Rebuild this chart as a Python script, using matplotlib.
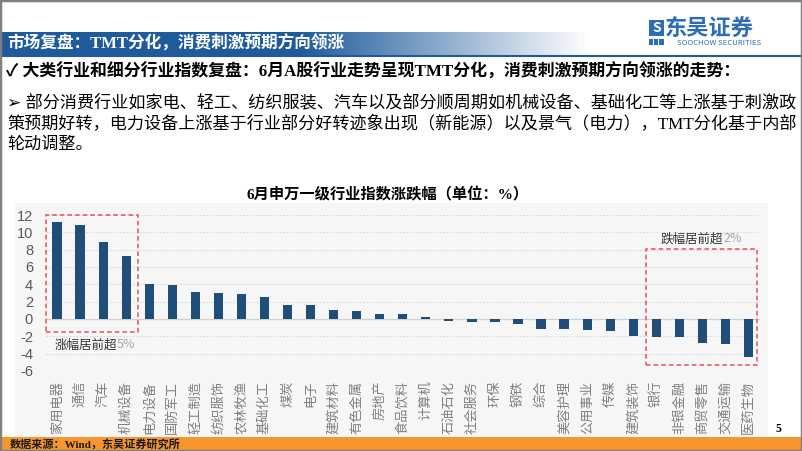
import matplotlib
matplotlib.use("Agg")
import matplotlib.pyplot as plt
import numpy as np
from matplotlib.patches import Rectangle

plt.rcParams['font.family'] = ['Noto Sans CJK SC', 'DejaVu Sans']

categories = ['家用电器', '通信', '汽车', '机械设备', '电力设备', '国防军工', '轻工制造',
              '纺织服饰', '农林牧渔', '基础化工', '煤炭', '电子', '建筑材料', '有色金属',
              '房地产', '食品饮料', '计算机', '石油石化', '社会服务', '环保', '钢铁', '综合',
              '美容护理', '公用事业', '传媒', '建筑装饰', '银行', '非银金融', '商贸零售',
              '交通运输', '医药生物']
values = [11.15, 10.85, 8.85, 7.3, 4.05, 3.95, 3.15, 2.95, 2.92, 2.55, 1.65, 1.58,
          1.0, 0.88, 0.57, 0.52, 0.27, -0.22, -0.37, -0.37, -0.52, -1.13, -1.2, -1.3,
          -1.4, -1.93, -2.02, -2.07, -2.72, -2.88, -4.43]
yticks = [-6, -4, -2, 0, 2, 4, 6, 8, 10, 12]

title = '6月申万一级行业指数涨跌幅（单位：%）'
header = '市场复盘：TMT分化，消费刺激预期方向领涨'
check_line = '✓ 大类行业和细分行业指数复盘：6月A股行业走势呈现TMT分化，消费刺激预期方向领涨的走势：'
bullet_lines = ['➢ 部分消费行业如家电、轻工、纺织服装、汽车以及部分顺周期如机械设备、基础化工等上涨基于刺激政',
                '策预期好转，电力设备上涨基于行业部分好转迹象出现（新能源）以及景气（电力），TMT分化基于内部',
                '轮动调整。']
source = '数据来源：Wind，东吴证券研究所'

W, H = 802, 451
fig = plt.figure(figsize=(W / 100, H / 100), dpi=100)


def fx(x):
    return x / W


def fy(y):
    return 1 - y / H


SERIF = ['Liberation Serif', 'Noto Sans CJK SC', 'DejaVu Sans']
BLUE = '#1F5B9B'
BAR = '#1F4E79'
LOGO = '#2E6DB4'

# Chart background (drawn first, behind everything)
fig.patches.append(Rectangle((fx(15), fy(437)), fx(768 - 15), fy(203) - fy(437),
                             transform=fig.transFigure, facecolor='#F6F6F6',
                             edgecolor='none', zorder=-5))

# Slide frame
fig.patches.append(Rectangle((0, 0), 1, 1, transform=fig.transFigure, fill=False,
                             edgecolor='#808080', linewidth=2.5, zorder=10))

# Header gradient band
hax = fig.add_axes([0, fy(56), 1, fy(32) - fy(56)])
hax.axis('off')
xs = np.linspace(0, W, 802)
alpha = np.clip((590 - xs) / (590 - 300), 0, 1)
c = np.array(matplotlib.colors.to_rgb(BLUE))
grad = (c[None, :] * alpha[:, None] + (1 - alpha[:, None]))
hax.imshow(grad[None, :, :], aspect='auto', extent=[0, W, 0, 1])
hax.set_xlim(0, W)
fig.add_artist(plt.Line2D([0, 1], [fy(56), fy(56)], transform=fig.transFigure,
                          color=BLUE, linewidth=1.5))
fig.text(fx(7), fy(44), header, family=SERIF, fontsize=12, color='white',
         fontweight='bold', va='center', ha='left')

# Logo
fig.patches.append(Rectangle((fx(649), fy(36)), fx(15), fy(20) - fy(36), transform=fig.transFigure,
                             facecolor=LOGO, edgecolor='none'))
fig.text(fx(656.5), fy(28), 'S', color='white', fontsize=10, fontweight='bold',
         ha='center', va='center')
for i in range(3):
    fig.patches.append(Rectangle((fx(649 + i * 5.2), fy(45)), fx(4.2), fy(39) - fy(45),
                                 transform=fig.transFigure, facecolor=LOGO, edgecolor='none'))
fig.text(fx(665), fy(28), '东吴证券', color=LOGO, fontsize=16, fontweight='bold',
         ha='left', va='center')
fig.text(fx(677), fy(43), 'SOOCHOW SECURITIES', color=LOGO, fontsize=5.6,
         ha='left', va='center')

# Check line and bullet
fig.text(fx(6), fy(72), check_line, family=SERIF, fontsize=12.2, fontweight='bold',
         color='black', va='center', ha='left')
for line, y in zip(bullet_lines, [103, 125, 145]):
    fig.text(fx(7), fy(y), line, family=SERIF, fontsize=12.3, color='black',
             va='center', ha='left')

# Chart title
fig.text(fx(388), fy(195), title, family=SERIF, fontsize=11, fontweight='bold',
         color='black', ha='center', va='center')

# Main axes
ax = fig.add_axes([fx(45.5), fy(371), fx(760 - 45.5), fy(215) - fy(371)])
ax.set_facecolor('none')
ax.set_zorder(2)
x = np.arange(len(categories))
ax.bar(x, values, width=0.4, color=BAR, zorder=3)
ax.set_xlim(-0.5, len(categories) - 0.5)
ax.set_ylim(-6, 12)
ax.set_yticks(yticks)
ax.set_yticklabels([str(v) for v in yticks], fontsize=10.5, color='#595959',
                   family=['Liberation Sans', 'DejaVu Sans'])
ax.set_xticks(x)
ax.set_xticklabels(categories, rotation=90, fontsize=9.5, color='#7F7F7F', va='top')
ax.tick_params(axis='both', length=0)
ax.tick_params(axis='y', pad=9)
ax.tick_params(axis='x', pad=7)
for s in ax.spines.values():
    s.set_visible(False)
for v in yticks:
    if v == 0:
        ax.axhline(0, color='#D0D0D0', linewidth=0.9, zorder=1)
    else:
        ax.axhline(v, color='#D9D9D9', linewidth=0.8, linestyle=(0, (1.5, 1.5)), zorder=1)

RED = '#E4505E'
ax.add_patch(Rectangle((-0.5, -1.5), 4.0, 13.5, fill=False, edgecolor=RED,
                       linewidth=1.1, linestyle=(0, (3, 2)), clip_on=False, zorder=4))
ax.add_patch(Rectangle((25.55, -5.3), 4.8, 13.35, fill=False, edgecolor=RED,
                       linewidth=1.1, linestyle=(0, (3, 2)), clip_on=False, zorder=4))

fig.text(fx(117), fy(345), '涨幅居前超', fontsize=9, color='#333333', ha='right', va='center')
fig.text(fx(117), fy(345), '5%', fontsize=9, color='#A6A6A6', ha='left', va='center')
fig.text(fx(723), fy(239), '跌幅居前超', fontsize=9, color='#333333', ha='right', va='center')
fig.text(fx(723), fy(239), '2%', fontsize=9, color='#A6A6A6', ha='left', va='center')

# Footer
fig.patches.append(Rectangle((0, 0), 1, fy(437), transform=fig.transFigure,
                             facecolor='#F7962F', edgecolor='none', zorder=1))
fig.text(fx(10), fy(444), source, family=SERIF, fontsize=8, fontweight='bold',
         color='#1A1A1A', ha='left', va='center')
fig.text(fx(778), fy(429), '5', family=SERIF, fontsize=8.5, fontweight='bold',
         color='black', ha='center', va='center')

fig.savefig('out.png', dpi=100)
